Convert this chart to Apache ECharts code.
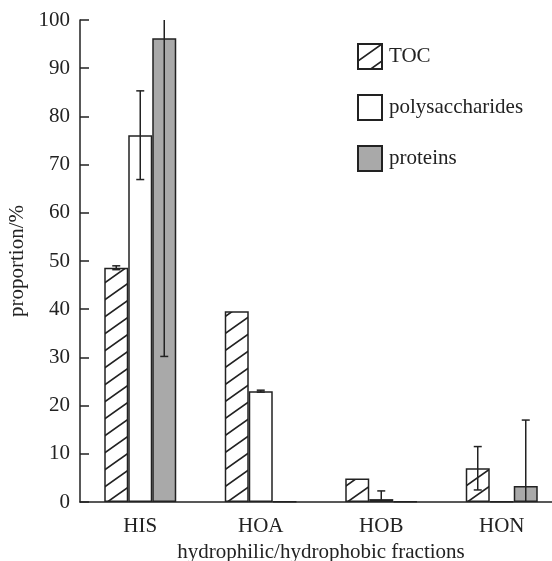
<!DOCTYPE html>
<html><head><meta charset="utf-8">
<script src="https://cdn.jsdelivr.net/npm/echarts@6/dist/echarts.min.js"></script>
<style>html,body{margin:0;padding:0;background:#fff}#c{width:552px;height:561px}</style>
</head><body><div id="c"></div>
<script>
var categories = ['HIS','HOA','HOB','HON'];
var seriesNames = ['TOC','polysaccharides','proteins'];
var tocValues = [48.6, 39.6, 4.9, 7.0];
var polyValues = [76.1, 23.0, 0.6, 0.15];
var protValues = [96.2, 0.12, 0.12, 3.3];
var tocErr = [0.4, 0, 0, 4.5];
var polyErr = [9.2, 0.2, 1.7, 0];
var protErr = [66, 0, 0, 13.7];
var yTicks = [0,10,20,30,40,50,60,70,80,90,100];

var FONT = "'Liberation Serif','Times New Roman',serif";
var INK = '#222';

function hatch(){
  var w = 24, h = 17;
  var c = document.createElement('canvas');
  c.width = w; c.height = h;
  var g = c.getContext('2d');
  g.fillStyle = '#fff'; g.fillRect(0,0,w,h);
  g.strokeStyle = INK; g.lineWidth = 1.7;
  g.beginPath();
  g.moveTo(-w, 2*h); g.lineTo(2*w, -h);
  g.moveTo(-w, h); g.lineTo(w, -h);
  g.moveTo(0, 2*h); g.lineTo(2*w, 0);
  g.stroke();
  return c;
}
var pat = {image: hatch(), repeat: 'repeat'};

var BW = 24;
var values = [tocValues, polyValues, protValues];
var errs = [tocErr, polyErr, protErr];
var fills = [pat, '#ffffff', '#a9a9a9'];

var series = [];
for (var s=0;s<3;s++){
  series.push({
    name: seriesNames[s], type: 'bar', data: values[s],
    barWidth: BW, barGap: '0%',
    itemStyle: {color: fills[s], borderColor: INK, borderWidth: 1.5},
    emphasis: {disabled: true}, z: 2
  });
}
for (var s2=0;s2<3;s2++){
  (function(si){
    var d = values[si].map(function(v,i){ return [i, v, errs[si][i]]; });
    series.push({
      type: 'custom', clip: true, z: 5, silent: true,
      data: d,
      renderItem: function(params, api){
        var e = api.value(2);
        if (!e) return null;
        var v = api.value(1), i = api.value(0);
        var off = (si-1)*BW;
        var hi = api.coord([i, v+e]);
        var lo = api.coord([i, v-e]);
        var x = hi[0] + off;
        var cw = 4;
        var st = {stroke: INK, lineWidth: 1.5};
        return {type:'group', children:[
          {type:'line', shape:{x1:x,y1:hi[1],x2:x,y2:lo[1]}, style:st},
          {type:'line', shape:{x1:x-cw,y1:hi[1],x2:x+cw,y2:hi[1]}, style:st},
          {type:'line', shape:{x1:x-cw,y1:lo[1],x2:x+cw,y2:lo[1]}, style:st}
        ]};
      }
    });
  })(s2);
}

var chart = echarts.init(document.getElementById('c'), null, {renderer:'canvas'});
chart.setOption({
  animation: false,
  backgroundColor: '#fff',
  grid: {left: 80, top: 20, bottom: 59, right: -10, containLabel: false, outerBoundsMode: 'none'},
  legend: {
    orient: 'vertical', left: 357, top: 43, padding: 0,
    itemWidth: 24, itemHeight: 25, itemGap: 24,
    icon: 'rect',
    data: seriesNames,
    textStyle: {fontFamily: FONT, fontSize: 21, color: INK, padding: [0,0,0,2]},
    selectedMode: false
  },
  xAxis: {
    type: 'category', data: categories,
    name: 'hydrophilic/hydrophobic fractions', nameLocation: 'middle', nameGap: 34,
    nameTextStyle: {fontFamily: FONT, fontSize: 21, color: INK},
    axisLine: {lineStyle: {color: INK, width: 1.5}},
    axisTick: {show: false},
    axisLabel: {fontFamily: FONT, fontSize: 21, color: INK, margin: 14}
  },
  yAxis: {
    type: 'value', min: 0, max: 100, interval: 10,
    name: 'proportion/%', nameLocation: 'middle', nameGap: 48,
    nameTextStyle: {fontFamily: FONT, fontSize: 21, color: INK},
    axisLine: {show: true, lineStyle: {color: INK, width: 1.5}},
    axisTick: {show: true, inside: true, length: 9, lineStyle: {color: INK, width: 1.5}},
    splitLine: {show: false},
    axisLabel: {fontFamily: FONT, fontSize: 21, color: INK, margin: 10,
      formatter: function(v){ return yTicks.indexOf(v) >= 0 ? String(v) : ''; }}
  },
  series: series
});
</script></body></html>
